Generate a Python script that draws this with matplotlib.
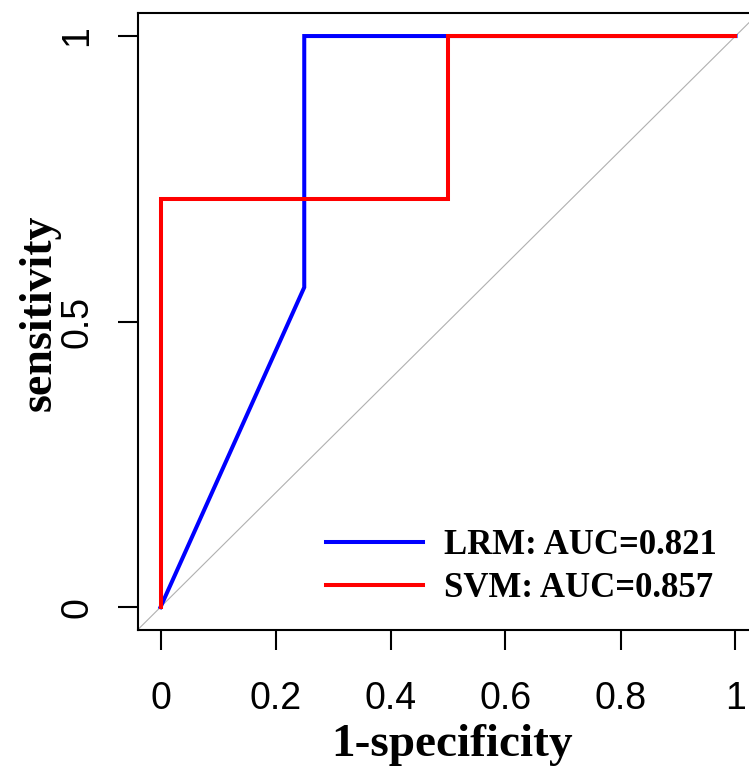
import matplotlib
matplotlib.use("Agg")
import matplotlib.pyplot as plt

# ROC curve points (1-specificity, sensitivity)
lrm_fpr = [0.0, 0.25, 0.25, 1.0]
lrm_tpr = [0.0, 0.56, 1.0, 1.0]
svm_fpr = [0.0, 0.0, 0.5, 0.5, 1.0]
svm_tpr = [0.0, 0.714, 0.714, 1.0, 1.0]
labels = ["LRM: AUC=0.821", "SVM: AUC=0.857"]
x_ticks = [0, 0.2, 0.4, 0.6, 0.8, 1]
x_ticklabels = ["0", "0.2", "0.4", "0.6", "0.8", "1"]
y_ticks = [0, 0.5, 1]
y_ticklabels = ["0", "0.5", "1"]

W, H = 749, 773
DPI = 100
fig = plt.figure(figsize=(W / DPI, H / DPI), dpi=DPI)

# axes box in pixels (right edge runs off the picture, as in the reference)
left, top, right, bottom = 137.5, 13.2, 758.5, 630.0
ax = fig.add_axes([left / W, 1 - bottom / H, (right - left) / W, (bottom - top) / H])
ax.set_xlim(-0.04, 1.04)
ax.set_ylim(-0.04, 1.04)

serif = ["Liberation Serif", "DejaVu Serif"]
sans = ["Liberation Sans", "DejaVu Sans"]

# reference diagonal
ax.plot([-0.04, 1.04], [-0.04, 1.04], color="#b0b0b0", linewidth=0.8, zorder=1)

ax.plot(lrm_fpr, lrm_tpr, color="#0000ff", linewidth=2.9, label=labels[0],
        solid_joinstyle="miter", zorder=2)
ax.plot(svm_fpr, svm_tpr, color="#ff0000", linewidth=2.9, label=labels[1],
        solid_joinstyle="miter", zorder=3)

for s in ax.spines.values():
    s.set_linewidth(1.5)

ax.set_xticks(x_ticks)
ax.set_xticklabels(x_ticklabels, fontfamily=sans, fontsize=27)
ax.set_yticks(y_ticks)
ax.set_yticklabels(y_ticklabels, fontfamily=sans, fontsize=27, rotation=90, va="center")
ax.tick_params(axis="both", length=14.5, width=1.5, direction="out")
ax.tick_params(axis="x", pad=22)
ax.tick_params(axis="y", pad=16)

ax.set_xlabel("1-specificity", fontfamily=serif, fontweight="bold", fontsize=34)
ax.set_ylabel("sensitivity", fontfamily=serif, fontweight="bold", fontsize=33)
ax.xaxis.label.set_va("center")
ax.yaxis.label.set_va("center")
ax.xaxis.set_label_coords((452 - left) / (right - left), -(745 - bottom) / (bottom - top))
ax.yaxis.set_label_coords(-(left - 40) / (right - left), (bottom - 313) / (bottom - top))

leg = ax.legend(loc="upper left", frameon=False,
                prop={"family": serif, "weight": "bold", "size": 25},
                handlelength=2.8, handletextpad=0.6, labelspacing=0.3,
                borderpad=0, borderaxespad=0,
                bbox_to_anchor=((326 - left) / (right - left), (bottom - 529) / (bottom - top)))

fig.savefig("out.png", dpi=DPI)
